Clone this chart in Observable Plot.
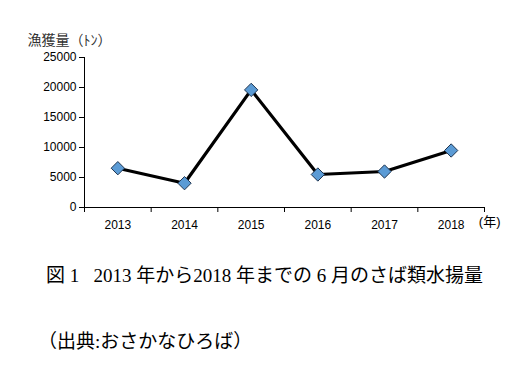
<!DOCTYPE html>
<html><head><meta charset="utf-8">
<script src="https://cdn.jsdelivr.net/npm/d3@7"></script>
<script src="https://cdn.jsdelivr.net/npm/@observablehq/plot@0.6"></script>
<style>
body{margin:0;background:#fff;}
#wrap{position:relative;width:530px;height:368px;}
.cap{position:absolute;font-family:"Liberation Serif","DejaVu Serif","Noto Sans CJK JP",serif;color:#000;font-size:19px;white-space:pre;}
</style></head>
<body><div id="wrap"></div>
<script>
const years = [2013, 2014, 2015, 2016, 2017, 2018];
const catch_t = [6550, 4050, 19600, 5500, 6000, 9500];
const yTicks = [0, 5000, 10000, 15000, 20000, 25000];
const yLabel = "漁獲量（ﾄﾝ）";
const xUnit = "(年)";
const title = "図 1\u2002 2013 年から2018 年までの 6 月のさば類水揚量";
const source = "（出典:おさかなひろば）";

const data = years.map((y, i) => ({year: y, v: catch_t[i]}));
const bounds = [years[0] - 0.5, ...years.map(y => y + 0.5)];

const chart = Plot.plot({
  width: 530, height: 240,
  marginLeft: 84, marginRight: 46, marginTop: 57, marginBottom: 33,
  style: {fontFamily: "'Liberation Sans','Noto Sans CJK JP',sans-serif", fontSize: "12px", color: "#000", background: "#fff"},
  x: {type: "linear", domain: [years[0] - 0.5, years[years.length - 1] + 0.5]},
  y: {domain: [0, 25000]},
  marks: [
    Plot.axisY({ticks: yTicks, tickSize: 5, tickFormat: d => String(d), label: null, tickPadding: 3, fontSize: 12}),
    Plot.axisX({ticks: bounds, tickSize: 5, tickFormat: () => "", label: null}),
    Plot.axisX({ticks: years, tickSize: 0, tickFormat: d => String(d), label: null, tickPadding: 13, fontSize: 12}),
    Plot.ruleY([0], {stroke: "#000"}),
    Plot.ruleX([years[0] - 0.5], {stroke: "#000"}),
    Plot.line(data, {x: "year", y: "v", stroke: "#000", strokeWidth: 3.2}),
    Plot.dot(data, {x: "year", y: "v", symbol: "diamond2", r: 6, fill: "#5B9BD5", stroke: "#1f3550", strokeWidth: 1}),
    Plot.text([yLabel], {frameAnchor: "top-left", dx: -57, dy: -22, textAnchor: "start", fontSize: 14, fill: "#333"}),
    Plot.text([xUnit], {frameAnchor: "bottom-right", dx: 16, dy: 18, textAnchor: "end", fontSize: 13, fill: "#000"})
  ]
});
const wrap = document.getElementById("wrap");
chart.style.position = "absolute";
chart.style.left = "0";
chart.style.top = "0";
wrap.appendChild(chart);
const t = document.createElement("div"); t.className = "cap"; t.style.left = "46px"; t.style.top = "260px"; t.textContent = title; wrap.appendChild(t);
const s = document.createElement("div"); s.className = "cap"; s.style.left = "38px"; s.style.top = "326px"; s.textContent = source; wrap.appendChild(s);
</script></body></html>
